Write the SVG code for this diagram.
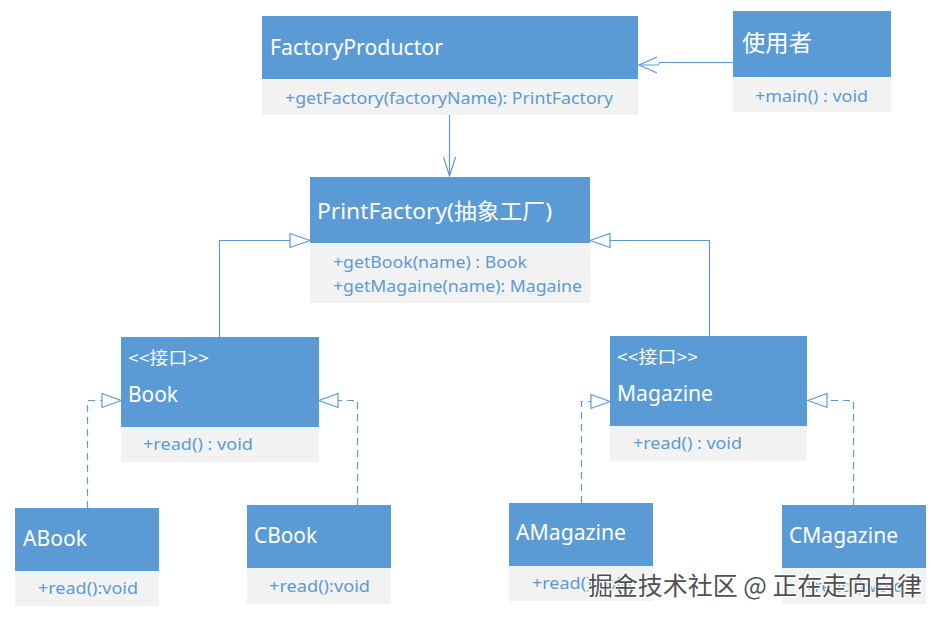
<svg xmlns="http://www.w3.org/2000/svg" width="940" height="621" viewBox="0 0 940 621">
<defs>
<style>
.hd{fill:#5b9bd5}
.bd{fill:#f2f2f2}
.t{font-family:"Noto Sans","Open Sans","Noto Sans CJK SC",sans-serif;fill:#ffffff;font-size:22px}
.st{font-family:"Noto Sans","Noto Sans CJK SC",sans-serif;fill:#ffffff;font-size:17px}
.m{font-family:"Noto Sans","Open Sans",sans-serif;fill:#5b9bd5;font-size:17px}
.ln{fill:none;stroke:#5b9bd5;stroke-width:1.2}
.dl{fill:none;stroke:#5b9bd5;stroke-width:1.2;stroke-dasharray:7 5}
.tri{fill:#ffffff;stroke:#5b9bd5;stroke-width:1.2}
.wm{font-family:"Noto Sans CJK SC",sans-serif;font-size:25px;fill:#505050;stroke:#ffffff;stroke-width:2.5;paint-order:stroke}
</style>
</defs>
<rect width="940" height="621" fill="#ffffff"/>

<g id="connectors">
  <path class="ln" d="M733 62.5 H660 L658 65 H639"/>
  <path class="ln" d="M657 57 L639 65 L657 73"/>
  <path class="ln" d="M449.5 115 V176"/>
  <path class="ln" d="M443.5 157 L449.5 176 L455.5 157"/>
  <path class="ln" d="M219.5 337 V240.5 H291"/>
  <path class="tri" d="M290 233.5 L310 240.5 L290 247.5 Z"/>
  <path class="ln" d="M709.5 336 V240.5 H610"/>
  <path class="tri" d="M610 233.5 L590 240.5 L610 247.5 Z"/>
  <path class="dl" d="M87.5 508 V400.5 H102"/>
  <path class="tri" d="M102 393.5 L121 400.5 L102 407.5 Z"/>
  <path class="dl" d="M357.5 505 V400.5 H338"/>
  <path class="tri" d="M338 393.5 L319 400.5 L338 407.5 Z"/>
  <path class="dl" d="M581.5 503 V401.5 H591"/>
  <path class="tri" d="M591 394.5 L610 401.5 L591 408.5 Z"/>
  <path class="dl" d="M853.5 505 V400.5 H827"/>
  <path class="tri" d="M827 393.5 L808 400.5 L827 407.5 Z"/>
</g>

<g id="FactoryProductor">
  <rect class="hd" x="262" y="16" width="376" height="63"/>
  <rect class="bd" x="262" y="79" width="376" height="36"/>
  <text class="t" x="270" y="55" textLength="173" lengthAdjust="spacingAndGlyphs">FactoryProductor</text>
  <text class="m" x="285" y="104" textLength="328" lengthAdjust="spacingAndGlyphs">+getFactory(factoryName): PrintFactory</text>
</g>

<g id="User">
  <rect class="hd" x="733" y="11" width="158" height="66"/>
  <rect class="bd" x="733" y="77" width="158" height="35"/>
  <text class="t" x="742" y="51" style="font-size:23px" textLength="70" lengthAdjust="spacingAndGlyphs">使用者</text>
  <text class="m" x="755" y="102" textLength="113" lengthAdjust="spacingAndGlyphs">+main() : void</text>
</g>

<g id="PrintFactory">
  <rect class="hd" x="310" y="177" width="280" height="66"/>
  <rect class="bd" x="310" y="243" width="280" height="60"/>
  <text class="t" x="317" y="219" textLength="235" lengthAdjust="spacingAndGlyphs">PrintFactory(抽象工厂)</text>
  <text class="m" x="333" y="268" textLength="194" lengthAdjust="spacingAndGlyphs">+getBook(name) : Book</text>
  <text class="m" x="333" y="292" textLength="249" lengthAdjust="spacingAndGlyphs">+getMagaine(name): Magaine</text>
</g>

<g id="Book">
  <rect class="hd" x="121" y="337" width="198" height="90"/>
  <rect class="bd" x="121" y="427" width="198" height="35"/>
  <text class="st" x="128" y="364" textLength="81" lengthAdjust="spacingAndGlyphs">&lt;&lt;接口&gt;&gt;</text>
  <text class="t" x="128" y="402" textLength="50" lengthAdjust="spacingAndGlyphs">Book</text>
  <text class="m" x="143" y="450" textLength="110" lengthAdjust="spacingAndGlyphs">+read() : void</text>
</g>

<g id="Magazine">
  <rect class="hd" x="610" y="336" width="197" height="90"/>
  <rect class="bd" x="610" y="426" width="197" height="35"/>
  <text class="st" x="617" y="363" textLength="81" lengthAdjust="spacingAndGlyphs">&lt;&lt;接口&gt;&gt;</text>
  <text class="t" x="617" y="401" textLength="96" lengthAdjust="spacingAndGlyphs">Magazine</text>
  <text class="m" x="633" y="449" textLength="109" lengthAdjust="spacingAndGlyphs">+read() : void</text>
</g>

<g id="ABook">
  <rect class="hd" x="15" y="508" width="144" height="63"/>
  <rect class="bd" x="15" y="571" width="144" height="35"/>
  <text class="t" x="23" y="546" textLength="64" lengthAdjust="spacingAndGlyphs">ABook</text>
  <text class="m" x="38" y="594" textLength="100" lengthAdjust="spacingAndGlyphs">+read():void</text>
</g>

<g id="CBook">
  <rect class="hd" x="247" y="505" width="144" height="63"/>
  <rect class="bd" x="247" y="568" width="144" height="36"/>
  <text class="t" x="254" y="543" textLength="63" lengthAdjust="spacingAndGlyphs">CBook</text>
  <text class="m" x="269" y="592" textLength="101" lengthAdjust="spacingAndGlyphs">+read():void</text>
</g>

<g id="AMagazine">
  <rect class="hd" x="509" y="503" width="144" height="63"/>
  <rect class="bd" x="509" y="566" width="144" height="35"/>
  <text class="t" x="516" y="540" textLength="110" lengthAdjust="spacingAndGlyphs">AMagazine</text>
  <text class="m" x="532" y="589" textLength="100" lengthAdjust="spacingAndGlyphs">+read():void</text>
</g>

<g id="CMagazine">
  <rect class="hd" x="782" y="505" width="144" height="63"/>
  <rect class="bd" x="782" y="568" width="144" height="36"/>
  <text class="t" x="789" y="543" textLength="109" lengthAdjust="spacingAndGlyphs">CMagazine</text>
  <text class="m" x="804" y="592" textLength="100" lengthAdjust="spacingAndGlyphs">+read():void</text>
</g>

<text class="wm" x="588" y="595" textLength="334" lengthAdjust="spacingAndGlyphs">掘金技术社区 @ 正在走向自律</text>
</svg>
